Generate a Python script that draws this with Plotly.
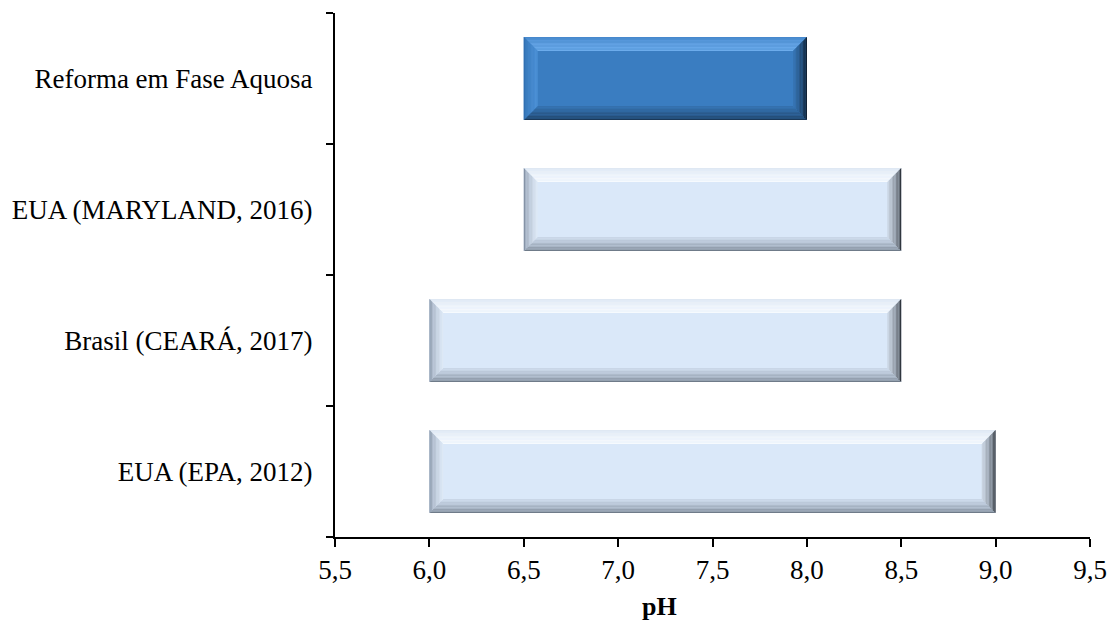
import plotly.graph_objects as go

# pH ranges per standard / process (bottom to top)
categories = ["EUA (EPA, 2012)", "Brasil (CEARÁ, 2017)", "EUA (MARYLAND, 2016)", "Reforma em Fase Aquosa"]
ph_min = [6.0, 6.0, 6.5, 6.5]
ph_max = [9.0, 8.5, 8.5, 8.0]
highlight = [False, False, False, True]

x_ticks = [5.5, 6.0, 6.5, 7.0, 7.5, 8.0, 8.5, 9.0, 9.5]
x_tick_text = [f"{v:.1f}".replace(".", ",") for v in x_ticks]

W, H = 1119, 620
M_L, M_R, M_T, M_B = 333, 24, 13, 83
X_RANGE = [5.5, 9.5]
Y_RANGE = [-0.5, 3.5]
BAR_HALF = 0.317
BEVEL_PX = 14
STRIPS = 10

px_per_x = (W - M_L - M_R) / (X_RANGE[1] - X_RANGE[0])
px_per_y = (H - M_T - M_B) / (Y_RANGE[1] - Y_RANGE[0])
bx = BEVEL_PX / px_per_x
by = BEVEL_PX / px_per_y

# (outer colour, inner colour) for each bevelled side
styles = {
    False: dict(face="#dae8f9",
                top=("#dfe8f3", "#f6fafe"),
                left=("#8593a6", "#dde8f5"),
                bottom=("#6f7b89", "#c9d6e7"),
                right=("#30363e", "#c8d3e0")),
    True: dict(face="#3a7dc1",
               top=("#4788cd", "#6cacec"),
               left=("#3170b2", "#4d92d7"),
               bottom=("#1a3858", "#3470ad"),
               right=("#0a1420", "#3674b3")),
}


def mix(c1, c2, t):
    a = [int(c1[i:i + 2], 16) for i in (1, 3, 5)]
    b = [int(c2[i:i + 2], 16) for i in (1, 3, 5)]
    return "#" + "".join(f"{round(a[k] + (b[k] - a[k]) * t):02x}" for k in range(3))


fig = go.Figure()

fig.add_trace(go.Bar(
    y=list(range(len(categories))),
    x=[hi - lo for lo, hi in zip(ph_min, ph_max)],
    base=ph_min,
    orientation="h",
    width=2 * BAR_HALF,
    marker=dict(color=[styles[h]["face"] for h in highlight], line=dict(width=0)),
    showlegend=False,
    hoverinfo="skip",
))

# bevelled edges of each bar, built as graded strips
shapes = []
for i, (lo, hi, hl) in enumerate(zip(ph_min, ph_max, highlight)):
    st = styles[hl]
    yt, yb = i + BAR_HALF, i - BAR_HALF
    for j in range(STRIPS):
        t0, t1 = j / STRIPS, (j + 1) / STRIPS
        ax0, ax1 = bx * t0, bx * t1
        ay0, ay1 = by * t0, by * t1
        frac = (j / (STRIPS - 1)) ** 0.6
        polys = {
            "top": [(lo + ax0, yt - ay0), (hi - ax0, yt - ay0), (hi - ax1, yt - ay1), (lo + ax1, yt - ay1)],
            "bottom": [(lo + ax0, yb + ay0), (hi - ax0, yb + ay0), (hi - ax1, yb + ay1), (lo + ax1, yb + ay1)],
            "left": [(lo + ax0, yt - ay0), (lo + ax0, yb + ay0), (lo + ax1, yb + ay1), (lo + ax1, yt - ay1)],
            "right": [(hi - ax0, yt - ay0), (hi - ax0, yb + ay0), (hi - ax1, yb + ay1), (hi - ax1, yt - ay1)],
        }
        for side, pts in polys.items():
            c = mix(st[side][0], st[side][1], frac)
            path = "M " + " L ".join(f"{px},{py}" for px, py in pts) + " Z"
            shapes.append(dict(type="path", xref="x", yref="y", path=path,
                               fillcolor=c, line=dict(width=0), layer="above"))

fig.update_layout(
    width=W, height=H,
    margin=dict(l=M_L, r=M_R, t=M_T, b=M_B),
    paper_bgcolor="white", plot_bgcolor="white",
    font=dict(family="Liberation Serif, Times New Roman, serif", color="black"),
    shapes=shapes,
    xaxis=dict(
        range=X_RANGE, tickvals=x_ticks, ticktext=x_tick_text,
        showgrid=False, zeroline=False,
        showline=True, linecolor="black", linewidth=2,
        ticks="outside", ticklen=8, tickwidth=2, tickcolor="black",
        ticklabelstandoff=0,
        tickfont=dict(size=27),
    ),
    yaxis=dict(
        range=Y_RANGE, tickvals=list(range(len(categories))), ticktext=categories,
        showgrid=False, zeroline=False,
        showline=True, linecolor="black", linewidth=2,
        ticks="", ticklabelstandoff=15,
        tickfont=dict(size=27),
        minor=dict(tickvals=[-0.5, 0.5, 1.5, 2.5, 3.5], ticks="outside",
                   ticklen=7, tickwidth=2, tickcolor="black", showgrid=False),
    ),
    annotations=[dict(text="<b>pH</b>", xref="paper", yref="paper",
                      x=0.43, y=-0.132, xanchor="center", yanchor="middle",
                      showarrow=False, font=dict(size=26))],
)

fig.write_html("out.html")
